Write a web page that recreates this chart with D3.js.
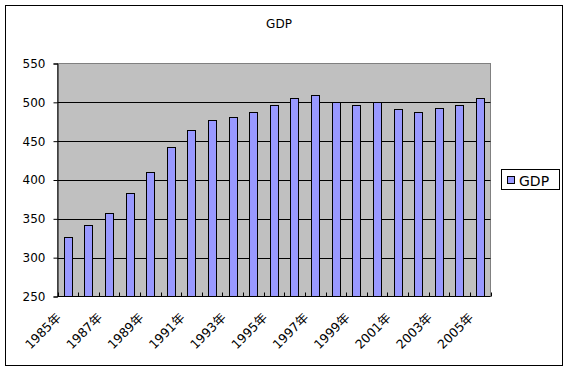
<!DOCTYPE html>
<html><head><meta charset="utf-8">
<script src="https://cdn.jsdelivr.net/npm/d3@7"></script>
<style>body{margin:0;background:#fff}svg{display:block}text{font-family:"DejaVu Sans","Noto Sans CJK JP",sans-serif;fill:#000}</style>
</head><body>
<script>
const years = ["1985年","1986年","1987年","1988年","1989年","1990年","1991年","1992年","1993年","1994年","1995年","1996年","1997年","1998年","1999年","2000年","2001年","2002年","2003年","2004年","2005年"];
const gdp = [326,342,358,383,410,442,465,477,481,487,496,505,509,500,497,501,492,487,493,496,505];
const yTicks = [250,300,350,400,450,500,550];
const seriesName = "GDP";
const title = "GDP";

const W = 569, H = 373;
const svg = d3.select("body").append("svg").attr("width", W).attr("height", H);
svg.append("rect").attr("x",5.5).attr("y",5.5).attr("width",557).attr("height",360).attr("fill","#fff").attr("stroke","#000");

const L = 57.5, R = 490.5, T = 63.5, B = 296.5;
const xb = d3.scaleBand().domain(years).range([L, R]);
const y = d3.scaleLinear().domain([250, 550]).range([B, T]);

svg.append("rect").attr("x",L).attr("y",T).attr("width",R-L).attr("height",B-T).attr("fill","#C0C0C0").attr("stroke","#808080");

// gridlines
svg.append("g").selectAll("line").data(yTicks.slice(1,-1)).join("line")
  .attr("x1",L).attr("x2",R).attr("y1",d=>Math.round(y(d))+0.5).attr("y2",d=>Math.round(y(d))+0.5).attr("stroke","#000");

// bars
const bw = xb.bandwidth()*0.4;
svg.append("g").selectAll("rect").data(gdp).join("rect")
  .attr("x",(d,i)=>Math.round(xb(years[i])+xb.bandwidth()/2-bw/2)+0.5)
  .attr("width",Math.round(bw))
  .attr("y",d=>Math.round(y(d))+0.5)
  .attr("height",d=>B-(Math.round(y(d))+0.5))
  .attr("fill","#9999FF").attr("stroke","#000");

// y axis
const ya = d3.axisLeft(y).tickValues(yTicks).tickSize(4).tickPadding(8).tickFormat(d3.format("d"));
const gy = svg.append("g").attr("transform",`translate(${L},0)`).call(ya);
gy.select(".domain").attr("stroke","#000");
gy.selectAll("line").attr("stroke","#000");
gy.selectAll("text").attr("font-size",12).style("font-family","DejaVu Sans");

// x axis
const gx = svg.append("g").attr("transform",`translate(0,${B})`);
gx.append("line").attr("x1",L).attr("x2",R).attr("stroke","#000");
const bounds = years.map(d=>xb(d)).concat([R]);
gx.selectAll("line.tk").data(bounds).join("line").attr("class","tk")
  .attr("x1",d=>Math.round(d)+0.5).attr("x2",d=>Math.round(d)+0.5).attr("y1",0).attr("y2",-4).attr("stroke","#000");
gx.selectAll("text").data(years.filter((d,i)=>i%2===0)).join("text")
  .attr("text-anchor","end").attr("font-size",12.5)
  .attr("transform",d=>`translate(${xb(d)+xb.bandwidth()/2-6},${22}) rotate(-45)`)
  .text(d=>d);

// title
svg.append("text").attr("x",279).attr("y",28).attr("text-anchor","middle").attr("font-size",12).text(title);

// legend
const lg = svg.append("g");
lg.append("rect").attr("x",501.5).attr("y",169.5).attr("width",58).attr("height",20).attr("fill","#fff").attr("stroke","#000");
lg.append("rect").attr("x",507.5).attr("y",176.5).attr("width",7).attr("height",7).attr("fill","#9999FF").attr("stroke","#000");
lg.append("text").attr("x",519).attr("y",185.5).attr("font-size",14).text(seriesName);
</script>
</body></html>
